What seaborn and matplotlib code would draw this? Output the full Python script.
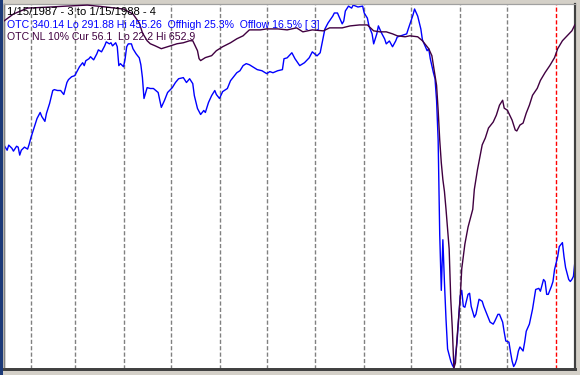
import numpy as np
import pandas as pd
import matplotlib
matplotlib.use("Agg")
import matplotlib.pyplot as plt
import seaborn as sns
from matplotlib.patches import Rectangle

start_date = "1987-01-15"
end_day = 363

otc_days = [0, 2, 3, 5, 6, 8, 9, 10, 11, 13, 15, 16, 17, 19, 21, 23, 24, 26, 27, 29,
            31, 32, 34, 36, 38, 39, 40, 41, 43, 45, 46, 48, 50, 51, 52, 54, 55, 57, 59, 60,
            62, 64, 65, 67, 68, 69, 71, 72, 73, 74, 76, 77, 78, 79, 81, 82, 84, 86, 87, 88,
            89, 91, 93, 95, 98, 100, 102, 104, 107, 109, 111, 114, 116, 118, 120, 121, 123, 125, 127, 128,
            130, 132, 134, 135, 137, 139, 142, 144, 146, 148, 150, 152, 154, 156, 159, 161, 164, 167, 169, 171,
            174, 177, 178, 180, 183, 185, 188, 191, 194, 196, 199, 201, 203, 204, 206, 209, 210, 212, 215, 216,
            217, 219, 221, 222, 225, 228, 229, 231, 232, 234, 235, 237, 238, 240, 242, 243, 245, 247, 249, 250,
            254, 256, 257, 260, 261, 263, 265, 266, 269, 270, 271, 273, 274, 275, 276, 277, 278, 279, 280, 281,
            282, 284, 285, 286, 287, 288, 289, 290, 291, 292, 293, 295, 296, 297, 299, 300, 302, 304, 305, 307,
            309, 311, 312, 314, 315, 317, 318, 319, 321, 322, 323, 324, 325, 326, 327, 328, 330, 331, 332, 334,
            336, 337, 338, 340, 341, 343, 344, 345, 346, 348, 349, 350, 352, 353, 355, 356, 357, 359, 360, 361,
            362, 363]
otc_values = [392.2, 389.9, 392.2, 390.8, 389.5, 391.7, 391.3, 387.7, 389.9, 391.3, 390.4, 392.6, 395.3, 399.8, 404.2, 406.9, 405.1, 402.9, 406.5, 411.0,
              416.8, 417.2, 416.8, 416.8, 415.0, 417.7, 420.4, 421.7, 423.0, 423.5, 424.8, 427.5, 429.3, 428.0, 430.2, 431.1, 432.0, 430.6, 433.3, 435.1,
              434.2, 436.9, 438.7, 437.8, 438.3, 436.9, 438.3, 436.5, 428.0, 428.9, 427.5, 431.1, 436.5, 437.8, 437.8, 435.6, 433.3, 431.5, 428.4, 422.6,
              413.2, 418.1, 417.7, 417.7, 415.9, 409.2, 412.3, 415.9, 418.1, 420.4, 422.1, 422.6, 420.4, 422.1, 419.9, 414.5, 408.7, 406.0, 407.8, 406.9,
              411.4, 414.5, 416.8, 415.0, 413.2, 416.3, 417.7, 421.2, 423.0, 424.8, 425.7, 428.0, 428.9, 428.4, 427.1, 426.2, 425.7, 424.4, 425.3, 424.8,
              425.7, 426.2, 431.1, 431.5, 433.8, 431.1, 428.0, 429.3, 431.5, 434.2, 432.4, 433.8, 440.9, 444.5, 447.2, 450.3, 451.7, 451.7, 446.8, 448.1,
              452.6, 454.8, 453.9, 455.26, 454.4, 454.8, 451.7, 449.4, 445.9, 442.3, 437.8, 442.3, 445.9, 442.7, 440.0, 437.8, 439.1, 436.5, 439.1, 440.9,
              441.8, 442.3, 444.5, 450.8, 453.5, 450.3, 444.5, 439.6, 434.7, 435.6, 431.1, 424.8, 422.1, 412.3, 394.4, 351.9, 326.8, 349.6, 330.4, 313.8,
              300.4, 295.0, 293.2, 291.88, 297.3, 303.5, 313.8, 324.1, 326.8, 319.6, 319.2, 325.0, 325.5, 319.6, 314.7, 316.0, 322.8, 321.9, 319.6, 316.0,
              312.5, 311.6, 312.9, 316.0, 316.0, 312.5, 308.0, 304.0, 303.5, 299.0, 295.0, 292.5, 293.7, 295.9, 299.5, 301.3, 299.5, 303.5, 308.4, 311.6,
              318.3, 322.8, 327.2, 327.7, 326.4, 331.7, 330.8, 325.0, 325.0, 328.6, 330.8, 336.2, 342.0, 346.5, 348.3, 342.0, 337.1, 331.7, 330.8, 331.7,
              333.1, 340.14]

nl_days = [0, 6, 15, 29, 40, 53, 65, 76, 82, 86, 88, 91, 93, 96, 100, 106, 110, 114, 118, 120,
           123, 124, 125, 128, 132, 135, 139, 144, 148, 152, 154, 156, 163, 167, 174, 180, 186, 190, 196, 203,
           207, 215, 220, 226, 231, 235, 239, 243, 247, 250, 255, 258, 263, 266, 268, 270, 272, 273, 275, 276,
           277, 278, 279, 280, 281, 282, 283, 284, 285, 286, 287, 288, 290, 291, 293, 295, 298, 299, 301, 304,
           306, 308, 311, 313, 315, 317, 318, 320, 323, 325, 326, 328, 330, 332, 334, 336, 339, 341, 344, 347,
           350, 352, 355, 358, 361, 363]
nl_values = [49.8, 37.7, 27.4, 25.6, 23.9, 22.2, 25.6, 29.1, 37.7, 53.2, 70.4, 84.2, 89.4, 92.9, 98.0, 92.9, 89.4, 87.7, 84.2, 84.2,
             101.5, 115.3, 118.7, 113.5, 110.1, 101.5, 94.6, 87.7, 80.8, 75.6, 70.4, 65.3, 65.3, 63.6, 63.6, 65.3, 61.8, 68.7, 65.3, 67.0,
             61.8, 61.8, 58.4, 56.7, 56.7, 67.0, 68.7, 68.7, 72.2, 75.6, 77.3, 75.6, 77.3, 84.2, 91.1, 98.0, 110.1, 127.3, 161.8, 204.9,
             256.6, 296.2, 325.5, 346.2, 377.2, 411.6, 446.1, 532.3, 584.0, 652.9, 644.3, 601.2, 532.3, 480.6, 437.5, 408.2, 377.2, 342.7, 308.3, 265.2,
             253.1, 235.9, 225.5, 213.5, 196.2, 187.6, 201.4, 204.9, 222.1, 239.3, 241.0, 230.7, 227.3, 210.0, 196.2, 179.0, 166.9, 153.2, 139.4, 127.3,
             113.5, 98.0, 84.2, 75.6, 67.0, 56.1]

title_text = "1/15/1987 - 3 to 1/15/1988 - 4"
otc_text = "OTC 340.14 Lo 291.88 Hi 455.26  Offhigh 25.3%  Offlow 16.5% [ 3]"
nl_text = "OTC NL 10% Cur 56.1  Lo 22.2 Hi 652.9"

BLUE = "#0000ff"
PURPLE = "#400040"

sns.set_style("white")
plt.rcParams["font.family"] = ["Liberation Sans", "DejaVu Sans"]

start = pd.Timestamp(start_date)
otc = pd.DataFrame({"date": start + pd.to_timedelta(otc_days, unit="D"), "value": otc_values})
nl = pd.DataFrame({"date": start + pd.to_timedelta(nl_days, unit="D"), "value": nl_values})

W, H = 580, 375
fig = plt.figure(figsize=(W / 100, H / 100), dpi=100, facecolor="#d4d0c8")
fig.patches.append(Rectangle((0, 0), 3 / W, 1, transform=fig.transFigure,
                             facecolor="#1c3a78", edgecolor="none", zorder=0))

ax = fig.add_axes([4 / W, 6 / H, 571 / W, 365 / H])
ax.set_facecolor("white")

# month dividers
months = pd.date_range("1987-02-01", "1988-01-01", freq="MS")
for m in months:
    col = "#ff0000" if m.month == 1 else "#808080"
    ax.axvline(m, color=col, lw=1, ls=(0, (3, 1.6)), zorder=1)

sns.lineplot(data=otc, x="date", y="value", ax=ax, color=BLUE, lw=1.0, zorder=3)
lo, hi = min(otc_values), max(otc_values)
pad = (hi - lo) * 0.003
ax.set_ylim(lo - pad, hi + pad)

ax2 = ax.twinx()
sns.lineplot(data=nl, x="date", y="value", ax=ax2, color=PURPLE, lw=1.0, zorder=3)
nlo, nhi = min(nl_values), max(nl_values)
npad = (nhi - nlo) * 0.003
ax2.set_ylim(nhi + npad, nlo - npad)

xlim = (start, start + pd.Timedelta(days=end_day))
for a in (ax, ax2):
    a.set_xlim(*xlim)
    a.set_xticks([])
    a.set_yticks([])
    a.set_xlabel("")
    a.set_ylabel("")
    a.grid(False)
    a.spines["left"].set_color("#808080")
    a.spines["left"].set_linewidth(1.0)
    a.spines["top"].set_color("#a0a0a0")
    a.spines["top"].set_linewidth(0.8)
    a.spines["right"].set_color("#404040")
    a.spines["right"].set_linewidth(1.5)
    a.spines["bottom"].set_color("#404040")
    a.spines["bottom"].set_linewidth(2.0)

fig.text(7 / W, 1 - 15 / H, title_text, color="black", fontsize=8.1, va="baseline", ha="left")
fig.text(7 / W, 1 - 27.5 / H, otc_text, color=BLUE, fontsize=7.6, va="baseline", ha="left")
fig.text(7 / W, 1 - 40.5 / H, nl_text, color=PURPLE, fontsize=7.6, va="baseline", ha="left")

fig.savefig("out.png", dpi=100, facecolor=fig.get_facecolor())
